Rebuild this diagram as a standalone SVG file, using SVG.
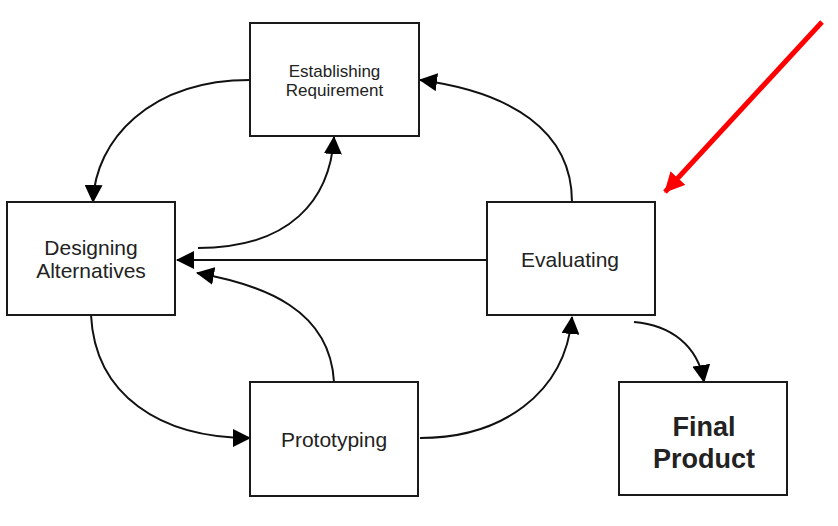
<svg xmlns="http://www.w3.org/2000/svg" width="838" height="526" viewBox="0 0 838 526">
<defs>
<style>
.box{fill:#fff;stroke:#1a1a1a;stroke-width:2}
.lbl{font-family:"Liberation Sans",Arial,sans-serif;fill:#222;text-anchor:middle}
.conn{fill:none;stroke:#111;stroke-width:2;marker-end:url(#ah)}
</style>
<marker id="ah" markerUnits="userSpaceOnUse" viewBox="0 0 18 18" refX="17" refY="9" markerWidth="18" markerHeight="18" orient="auto">
<path d="M0,0 L18,9 L0,18 z" fill="#000"/>
</marker>
<marker id="rah" markerUnits="userSpaceOnUse" viewBox="0 0 20 20" refX="19" refY="10" markerWidth="20" markerHeight="20" orient="auto">
<path d="M0,0 L20,10 L0,20 z" fill="#ff0000"/>
</marker>
</defs>
<rect width="838" height="526" fill="#fff"/>
<g id="connectors">
<path class="conn" d="M250,80 C150,80 95,140 93,202"/>
<path class="conn" d="M198,248 C290,248 330,200 334,137"/>
<path class="conn" d="M487,260 L177,260"/>
<path class="conn" d="M334,382 C330,310 265,285 197,273"/>
<path class="conn" d="M91,315 C95,395 160,438 250,438"/>
<path class="conn" d="M420,438 C500,438 565,395 572,317"/>
<path class="conn" d="M572,202 C572,130 510,92 420,80"/>
<path class="conn" d="M634,322 C670,325 698,345 704,382"/>
<path d="M822,22 L665,192" fill="none" stroke="#ff0000" stroke-width="5" marker-end="url(#rah)"/>
</g>
<g id="establishing">
<rect class="box" x="250" y="23" width="169" height="113"/>
<text class="lbl" x="334.5" y="77" font-size="17">Establishing</text>
<text class="lbl" x="334.5" y="96" font-size="17">Requirement</text>
</g>
<g id="designing">
<rect class="box" x="7" y="202" width="168" height="113"/>
<text class="lbl" x="91" y="255" font-size="21">Designing</text>
<text class="lbl" x="91" y="278" font-size="21">Alternatives</text>
</g>
<g id="evaluating">
<rect class="box" x="487" y="202" width="168" height="113"/>
<text class="lbl" x="570" y="267" font-size="21">Evaluating</text>
</g>
<g id="prototyping">
<rect class="box" x="250" y="382" width="168" height="114"/>
<text class="lbl" x="334" y="447" font-size="21">Prototyping</text>
</g>
<g id="final">
<rect class="box" x="619" y="382" width="168" height="113"/>
<text class="lbl" x="704" y="436" font-size="27" font-weight="bold">Final</text>
<text class="lbl" x="704" y="468" font-size="27" font-weight="bold">Product</text>
</g>
</svg>
